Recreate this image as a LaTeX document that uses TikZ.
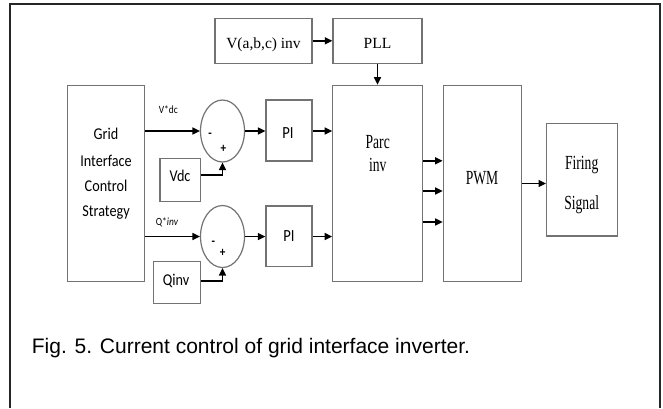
\documentclass[tikz,border=0pt]{standalone}
\usepackage{fontspec}
\setmainfont{Liberation Sans}
\newfontfamily\sansc[FakeStretch=0.86]{Carlito}
\newfontfamily\serifc[FakeStretch=0.68]{Liberation Serif}
\newfontfamily\serifn{Liberation Serif}
\usetikzlibrary{shapes.geometric,arrows.meta}
\begin{document}
\begin{tikzpicture}[x=1pt,y=-1pt,
  box/.style={draw=black!55,line width=1.3pt,inner sep=0pt,rectangle},
  sumnode/.style={draw=black!55,line width=1.2pt,inner sep=0pt,ellipse,minimum width=44pt,minimum height=62pt},
  arr/.style={line width=1.4pt,black,-{Triangle[length=7.5pt,width=7pt]}},
  lbl/.style={inner sep=0pt,anchor=base},
  big/.style={lbl,font=\sansc\fontsize{16.5}{18}\selectfont},
  small/.style={lbl,font=\sansc\fontsize{11}{12}\selectfont},
  sgn/.style={lbl,font=\sansc\bfseries\fontsize{13}{14}\selectfont},
  sertop/.style={lbl,font=\serifn\fontsize{15.5}{18}\selectfont},
  serbig/.style={lbl,font=\serifc\fontsize{20}{22}\selectfont}]
\useasboundingbox (0,0) rectangle (663,408);
\fill[white] (0,0) rectangle (663,408);
% outer frame
\draw[line width=2pt,black!85] (10,408) -- (10,3.5) -- (660,3.5) -- (660,408);

% boxes
\node[box,minimum width=97pt,minimum height=45pt] (vabc) at (263.5,40.8) {};
\node[box,minimum width=89pt,minimum height=45pt] (pll) at (377.5,40.8) {};
\node[box,minimum width=77pt,minimum height=196pt] (grid) at (106,183.7) {};
\node[box,minimum width=89.5pt,minimum height=196.5pt] (parc) at (377.5,183.5) {};
\node[box,minimum width=78.4pt,minimum height=196.5pt] (pwm) at (482.5,183.5) {};
\node[box,minimum width=70.6pt,minimum height=112.7pt] (firing) at (582,179.7) {};
\node[box,minimum width=46pt,minimum height=61pt] (pi1) at (289,130.5) {};
\node[box,minimum width=46pt,minimum height=60.7pt] (pi2) at (289,236.3) {};
\node[box,minimum width=40.7pt,minimum height=43.4pt] (vdc) at (180.3,180) {};
\node[box,minimum width=47.4pt,minimum height=41.6pt] (qinv) at (177,282.5) {};
\node[sumnode] (sum1) at (222.5,131) {};
\node[sumnode] (sum2) at (222.5,236.5) {};

% texts
\node[sertop] at (263.5,48.3) {V(a,b,c) inv};
\node[sertop] at (377.5,48.3) {PLL};
\node[big] at (106,139.3) {Grid};
\node[big] at (106,166) {Interface};
\node[big] at (106,191.7) {Control};
\node[big] at (106,216.7) {Strategy};
\node[serbig] at (377.7,148.3) {Parc};
\node[serbig] at (377.7,171.7) {inv};
\node[serbig] at (482,184) {PWM};
\node[serbig] at (581.7,169.3) {Firing};
\node[serbig] at (581.7,209.3) {Signal};
\node[big] at (180,181) {Vdc};
\node[big] at (176,285) {Qinv};
\node[big,font=\sansc\fontsize{17}{18}\selectfont] at (288,138.3) {PI};
\node[big,font=\sansc\fontsize{17}{18}\selectfont] at (289,241.7) {PI};
\node[small] at (168.3,113.3) {V*dc};
\node[small] at (167,225) {Q*\textit{inv}};
\node[sgn] at (210,137.5) {-};
\node[sgn] at (223.3,152) {+};
\node[sgn] at (213.3,245) {-};
\node[sgn] at (222.7,256) {+};

% caption
\node[inner sep=0pt,anchor=base west,font=\fontsize{21}{24}\selectfont] at (31.7,353.3) {Fig. 5. Current control of grid interface inverter.};

% connectors
\draw[arr] (vabc.east) -- (pll.west);
\draw[arr] (pll.south) -- (parc.north);
\draw[arr] (sum1.west -| grid.east) -- (sum1.west);
\draw[arr] (sum2.west -| grid.east) -- (sum2.west);
\draw[arr] (sum1.east) -- (sum1.east -| pi1.west);
\draw[arr] (sum2.east) -- (sum2.east -| pi2.west);
\draw[arr] (sum1.east -| pi1.east) -- (sum1.east -| parc.west);
\draw[arr] (sum2.east -| pi2.east) -- (sum2.east -| parc.west);
\draw[arr] ([yshift=5pt]vdc.east) -| (sum1.south);
\draw[arr] ([yshift=1.5pt]qinv.east) -| (sum2.south);
\draw[arr] ([yshift=22.7pt]parc.east) -- ([yshift=22.7pt]pwm.west);
\draw[arr] ([yshift=-7.5pt]parc.east) -- ([yshift=-7.5pt]pwm.west);
\draw[arr] ([yshift=-38.5pt]parc.east) -- ([yshift=-38.5pt]pwm.west);
\draw[arr] (pwm.east) -- (pwm.east -| firing.west);
\end{tikzpicture}
\end{document}
